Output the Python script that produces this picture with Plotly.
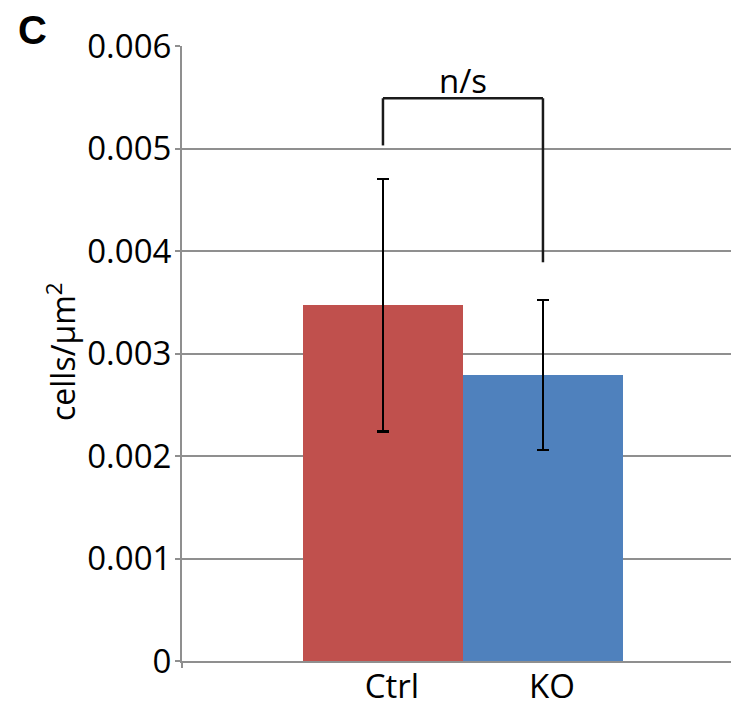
import plotly.graph_objects as go

categories = ["Ctrl", "KO"]
means = [0.00347, 0.00279]
errors = [0.00123, 0.00073]
colors = ["#C0504D", "#4F81BD"]
x_pos = [0, 1]

y_ticks = [0, 0.001, 0.002, 0.003, 0.004, 0.005, 0.006]
y_tick_labels = ["0", "0.001", "0.002", "0.003", "0.004", "0.005", "0.006"]
y_title = "cells/µm<sup>2</sup>"

bracket_top = 0.00549
bracket_left_end = 0.00503
bracket_right_end = 0.00389
sig_label = "n/s"

FONT = "Open Sans"
GRID = "#8f8f8f"

# page body has an 8px margin, so the figure is offset by 8px; plot reaches the window's right edge
W, H = 747, 705
L, R, T, B = 174, 0, 38, 52

plot_w = W - L - R
plot_h = H - T - B
PX_PER_CAT = 160

fig = go.Figure()
fig.add_trace(go.Bar(
    x=x_pos, y=means, width=1,
    marker=dict(color=colors, line=dict(width=0)),
    error_y=dict(type="data", array=errors, visible=True,
                 color="black", thickness=2.2, width=6),
    showlegend=False,
))

# significance bracket
fig.add_shape(type="line", x0=x_pos[0], x1=x_pos[0], y0=bracket_left_end, y1=bracket_top,
              line=dict(color="#1a1a1a", width=2.5))
fig.add_shape(type="line", x0=x_pos[0], x1=x_pos[1], y0=bracket_top, y1=bracket_top,
              line=dict(color="#1a1a1a", width=2.5))
fig.add_shape(type="line", x0=x_pos[1], x1=x_pos[1], y0=bracket_right_end, y1=bracket_top,
              line=dict(color="#1a1a1a", width=2.5))
fig.add_annotation(x=(x_pos[0] + x_pos[1]) / 2, y=bracket_top, text=sig_label,
                   showarrow=False, yanchor="bottom", yshift=-7,
                   font=dict(family=FONT, size=33, color="black"))

# panel letter
fig.add_annotation(x=(8 - L) / plot_w, y=1 + 16 / plot_h, xref="paper", yref="paper",
                   text="<b>C</b>", showarrow=False, xanchor="left", yanchor="middle",
                   font=dict(family="Liberation Sans", size=40, color="black"))

# y-axis title
fig.add_annotation(x=(53 - L) / plot_w, y=1 - (344 - T) / plot_h, xref="paper", yref="paper",
                   text=y_title, textangle=-90, showarrow=False,
                   xanchor="center", yanchor="middle",
                   font=dict(family=FONT, size=32, color="black"))

# small category tick at left end of x axis
fig.add_shape(type="line", xref="paper", yref="paper", x0=0, x1=0, y0=0, y1=-7 / plot_h,
              line=dict(color=GRID, width=2))

fig.update_layout(
    width=W, height=H,
    margin=dict(l=L, r=R, t=T, b=B, autoexpand=False),
    plot_bgcolor="white", paper_bgcolor="white",
    font=dict(family=FONT, color="black"),
    bargap=0,
)
x_left = -1.256
fig.update_xaxes(
    range=[x_left, x_left + plot_w / PX_PER_CAT],
    tickvals=x_pos, ticktext=categories,
    tickfont=dict(family=FONT, size=33),
    ticklabelshift=9, ticklabelstandoff=-5,
    showline=True, linecolor=GRID, linewidth=2,
    showgrid=False, zeroline=False, ticks="",
)
fig.update_yaxes(
    range=[0, 0.006],
    tickvals=y_ticks, ticktext=y_tick_labels,
    tickfont=dict(family=FONT, size=33),
    ticklabelstandoff=-3,
    ticks="outside", ticklen=5, tickcolor=GRID, tickwidth=2,
    showline=True, linecolor=GRID, linewidth=2,
    showgrid=True, gridcolor=GRID, gridwidth=2,
    zeroline=False,
)

fig.write_html("out.html")
